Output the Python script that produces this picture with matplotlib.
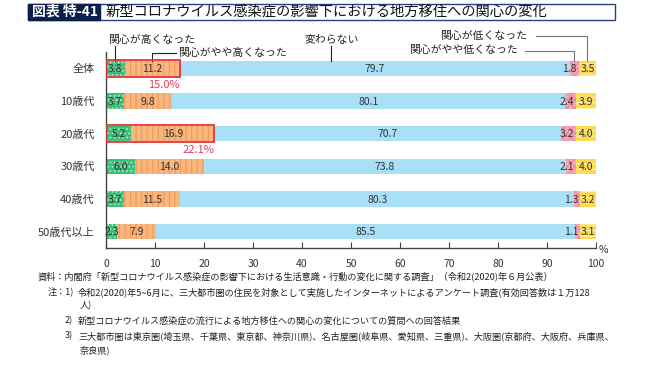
import matplotlib
matplotlib.use("Agg")
import matplotlib.pyplot as plt
from matplotlib.patches import Rectangle
import numpy as np

plt.rcParams['font.family'] = ['Noto Sans CJK JP', 'DejaVu Sans']
plt.rcParams['hatch.linewidth'] = 0.8

categories = ['全体', '10歳代', '20歳代', '30歳代', '40歳代', '50歳代以上']
series_names = ['関心が高くなった', '関心がやや高くなった', '変わらない',
                '関心がやや低くなった', '関心が低くなった']
high = [3.8, 3.7, 5.2, 6.0, 3.7, 2.3]
slightly_high = [11.2, 9.8, 16.9, 14.0, 11.5, 7.9]
unchanged = [79.7, 80.1, 70.7, 73.8, 80.3, 85.5]
slightly_low = [1.8, 2.4, 3.2, 2.1, 1.3, 1.1]
low = [3.5, 3.9, 4.0, 4.0, 3.2, 3.1]
highlight_rows = [0, 2]
xticks = list(range(0, 101, 10))

series = [high, slightly_high, unchanged, slightly_low, low]
faces = ['#3cc078', '#f9b67e', '#a9dff7', '#f6a6b8', '#ffd94e']
hatches = ['....', '|||', None, 'xxxx', '---']
hcols = ['#a6ecc6', '#ef9a55', None, '#ee8aa1', '#fff3b8']

W, H = 650, 365
fig = plt.figure(figsize=(W / 100, H / 100), dpi=100)
L, R, T, B = 106, 596, 52, 248
ax = fig.add_axes([L / W, (H - B) / H, (R - L) / W, (B - T) / H])

y = np.arange(len(categories))
left = np.zeros(len(categories))
bh = 0.46
for k, vals in enumerate(series):
    vals = np.array(vals)
    if hatches[k]:
        ax.barh(y, vals, left=left, height=bh, color=faces[k],
                edgecolor=hcols[k], hatch=hatches[k], linewidth=0)
    else:
        ax.barh(y, vals, left=left, height=bh, color=faces[k], linewidth=0)
    for i, v in enumerate(vals):
        if k == 3:
            xt, ha = left[i] + v - 0.4, 'right'
        else:
            xt, ha = left[i] + v / 2, 'center'
        ax.text(xt, y[i] + 0.02, f'{v:.1f}', ha=ha, va='center',
                fontsize=7.5, color='#333333')
    left = left + vals

# highlight boxes
for i in highlight_rows:
    tot = high[i] + slightly_high[i]
    ax.add_patch(Rectangle((0, i - 0.26), tot, 0.52, fill=False,
                           edgecolor='#e8303a', linewidth=1.3, zorder=5))
    ax.text(tot, i + 0.5, f'{tot:.1f}%', ha='right', va='center',
            fontsize=8, color='#e8385a')

ax.set_xlim(0, 100)
ax.set_ylim(len(categories) - 0.5, -0.5)
ax.set_yticks(y)
ax.set_yticklabels(categories, fontsize=8, color='#333333')
ax.tick_params(axis='y', length=0, pad=8)
ax.set_xticks(xticks)
ax.set_xticklabels([str(t) for t in xticks], fontsize=7.5, color='#333333')
ax.tick_params(axis='x', direction='in', length=4, pad=8, color='#444444')
for s in ['top', 'right']:
    ax.spines[s].set_visible(False)
for s in ['left', 'bottom']:
    ax.spines[s].set_color('#444444')
    ax.spines[s].set_linewidth(1.0)
ax.text(1.015, -0.01, '%', transform=ax.transAxes, fontsize=7.5,
        color='#333333', ha='center', va='center')

# header labels with leader lines (data coordinates of first row)
def py(p):
    return (p - 52) / 32.67 - 0.5

bar_top = -bh / 2
xg = high[0] / 2
xo = high[0] + slightly_high[0] / 2
xp = 100 - low[0] - slightly_low[0] / 2
xy = 100 - low[0] / 2
xu = 46.0
lk = dict(color='#222222', lw=0.8, clip_on=False)
lg = dict(color='#777777', lw=0.8, clip_on=False)
tk = dict(fontsize=7.8, color='#222222', va='center')

ax.text(0.4, py(40), series_names[0], ha='left', **tk)
ax.plot([xg, xg], [py(46), bar_top], **lk)

ax.text(14.7, py(53), series_names[1], ha='left', **tk)
ax.plot([14.2, xo, xo], [py(53), py(53), bar_top], **lk)

ax.text(xu, py(40), series_names[2], ha='center', **tk)
ax.plot([xu, xu], [py(46), bar_top], **lk)

ax.text(86.0, py(36), series_names[4], ha='right', **tk)
ax.plot([87.8, xy, xy], [py(36), py(36), bar_top], **lg)

ax.text(84.0, py(50), series_names[3], ha='right', **tk)
ax.plot([85.6, xp, xp], [py(51), py(51), bar_top], **lg)

# title
fig.patches.append(Rectangle((28 / W, 1 - 20 / H), (615 - 28) / W, 16 / H,
                             transform=fig.transFigure, facecolor='white',
                             edgecolor='#2b3f80', linewidth=1.0))
fig.patches.append(Rectangle((28 / W, 1 - 20 / H), (100 - 28) / W, 16 / H,
                             transform=fig.transFigure, facecolor='#0b1f4a',
                             edgecolor='#0b1f4a', linewidth=1.0))
fig.text(32 / W, 1 - 12 / H, '図表 特-41', color='white', fontsize=10,
         fontweight='bold', va='center', ha='left')
fig.text(106 / W, 1 - 12 / H,
         '新型コロナウイルス感染症の影響下における地方移住への関心の変化',
         color='#111111', fontsize=10.3, va='center', ha='left')

# footnotes
fk = dict(fontsize=6.6, color='#222222', va='center', ha='left')
fig.text(38 / W, 1 - 276 / H,
         '資料：内閣府「新型コロナウイルス感染症の影響下における生活意識・行動の変化に関する調査」（令和2(2020)年６月公表）', **fk)
fig.text(48 / W, 1 - 292 / H, '注：1)', **fk)
fig.text(78 / W, 1 - 292 / H,
         '令和2(2020)年5~6月に、三大都市圏の住民を対象として実施したインターネットによるアンケート調査(有効回答数は１万128', **fk)
fig.text(80 / W, 1 - 306 / H, '人)', **fk)
fig.text(65 / W, 1 - 321 / H, '2)', **fk)
fig.text(78 / W, 1 - 321 / H,
         '新型コロナウイルス感染症の流行による地方移住への関心の変化についての質問への回答結果', **fk)
fig.text(65 / W, 1 - 336 / H, '3)', **fk)
fig.text(78 / W, 1 - 336 / H,
         '三大都市圏は東京圏(埼玉県、千葉県、東京都、神奈川県)、名古屋圏(岐阜県、愛知県、三重県)、大阪圏(京都府、大阪府、兵庫県、', **fk)
fig.text(80 / W, 1 - 350 / H, '奈良県)', **fk)

fig.savefig('out.png', dpi=100)
